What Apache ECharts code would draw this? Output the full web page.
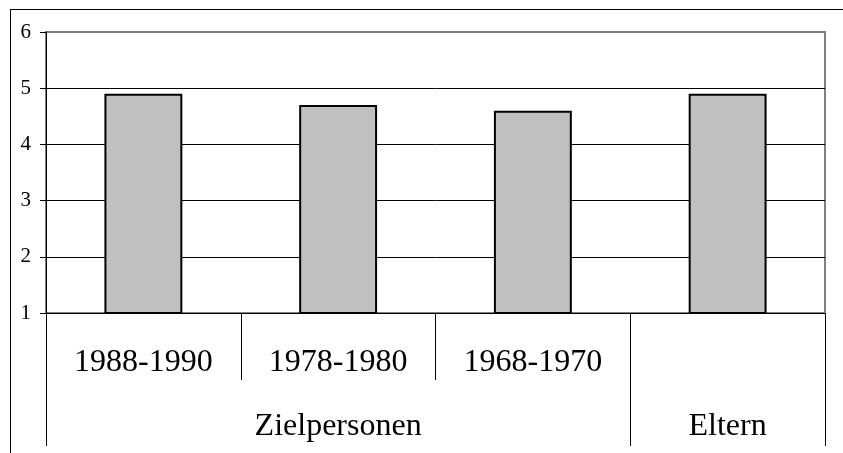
<!DOCTYPE html>
<html>
<head>
<meta charset="utf-8">
<script src="https://cdn.jsdelivr.net/npm/echarts@6/dist/echarts.min.js"></script>
<style>
  html, body { margin: 0; padding: 0; background: #fff; }
  .frame {
    position: absolute; left: 10px; top: 9px; width: 900px; height: 500px;
    border-top: 1px solid #000; border-left: 1px solid #000;
    box-shadow: 0 1px 0 #bbb;
  }
  #chart { position: absolute; left: 0; top: 0; width: 843px; height: 453px; }
</style>
</head>
<body>
<div class="frame"></div>
<div id="chart"></div>
<script>
// Kohorten (erste Ebene) und Gruppen (zweite Ebene)
const categories = ['1988-1990', '1978-1980', '1968-1970', '']
const groups = ['', 'Zielpersonen', '', 'Eltern']
const values = [4.9, 4.7, 4.6, 4.9]
const yTicks = [1, 6, 1] // min, max, interval

const font = 'Liberation Serif'
const chart = echarts.init(document.getElementById('chart'))

chart.setOption({
  animation: false,
  grid: {
    left: 46, right: 18, top: 32, bottom: 140,
    show: true, borderColor: '#808080', borderWidth: 2, backgroundColor: 'transparent'
  },
  xAxis: [
    {
      type: 'category',
      data: categories,
      position: 'bottom',
      axisLine: { show: true, lineStyle: { color: '#000', width: 1 } },
      axisTick: { show: true, length: 67, lineStyle: { color: '#000' } },
      axisLabel: { color: '#000', fontFamily: font, fontSize: 32, margin: 34, interval: 0 }
    },
    {
      type: 'category',
      data: groups,
      position: 'bottom',
      axisLine: { show: false },
      axisTick: {
        show: true,
        length: 133,
        interval: (i) => i === 0 || i === 3,
        lineStyle: { color: '#000' }
      },
      axisLabel: { color: '#000', fontFamily: font, fontSize: 32, margin: 98, interval: 0 }
    }
  ],
  yAxis: {
    type: 'value',
    min: yTicks[0],
    max: yTicks[1],
    interval: yTicks[2],
    axisLine: { show: true, lineStyle: { color: '#000', width: 1 } },
    axisTick: { show: true, length: 6, lineStyle: { color: '#000' } },
    axisLabel: { color: '#000', fontFamily: font, fontSize: 21, margin: 15 },
    splitLine: { show: true, showMaxLine: false, lineStyle: { color: '#000', width: 1 } }
  },
  series: [
    {
      type: 'bar',
      xAxisIndex: 0,
      data: values,
      barWidth: '40%',
      itemStyle: { color: '#c0c0c0', borderColor: '#000', borderWidth: 2 }
    }
  ]
})
</script>
</body>
</html>
